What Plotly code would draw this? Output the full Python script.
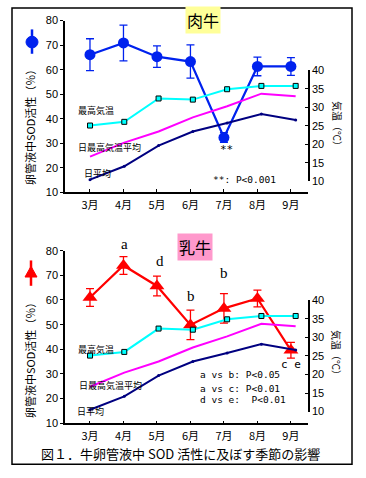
import plotly.graph_objects as go

W, H = 366, 478
def X(px): return px / W
def Y(py): return 1 - py / H

months = ["3月", "4月", "5月", "6月", "7月", "8月", "9月"]

# SOD activity (%) in oviduct fluid
beef_sod = [66.1, 70.9, 65.3, 63.3, 32.3, 61.3, 61.3]
beef_err = [6.5, 7.3, 4.4, 6.8, 2.0, 3.8, 3.6]
dairy_sod = [61.0, 74.0, 65.7, 49.9, 56.6, 60.6, 39.6]
dairy_err = [3.6, 3.6, 4.0, 6.0, 6.0, 3.4, 3.2]

# Temperatures (℃)
temp_max = [25.1, 26.1, 32.4, 32.1, 34.9, 35.8, 35.8]
temp_max_avg = [16.7, 20.5, 23.5, 27.3, 30.3, 33.7, 33.0]
temp_mean = [10.5, 14.1, 19.7, 23.5, 25.8, 28.2, 26.6]

JP = "Noto Sans CJK JP"
NUM = "Liberation Sans"

fig = go.Figure()

def add_panel(xa, ya, xt, yt, sod, err, color, symbol, msize):
    fig.add_trace(go.Scatter(x=months, y=temp_max, xaxis=xt, yaxis=yt, mode="lines+markers",
                             line=dict(color="#00FFFF", width=2),
                             marker=dict(symbol="square", size=5, color="#00FFFF",
                                         line=dict(color="#000000", width=1)),
                             showlegend=False))
    fig.add_trace(go.Scatter(x=months, y=temp_max_avg, xaxis=xt, yaxis=yt, mode="lines",
                             line=dict(color="#FF00FF", width=2), showlegend=False))
    fig.add_trace(go.Scatter(x=months, y=temp_mean, xaxis=xt, yaxis=yt, mode="lines+markers",
                             line=dict(color="#000080", width=2),
                             marker=dict(size=3, color="#000080"), showlegend=False))
    fig.add_trace(go.Scatter(x=months, y=sod, xaxis=xa, yaxis=ya, mode="lines+markers",
                             line=dict(color=color, width=2.2),
                             marker=dict(symbol=symbol, size=msize, color=color),
                             error_y=dict(type="data", array=err, visible=True, color=color,
                                          thickness=1.3, width=4),
                             showlegend=False))

add_panel("x", "y", "x2", "y2", beef_sod, beef_err, "#0022EE", "circle", 11)
add_panel("x3", "y3", "x4", "y4", dairy_sod, dairy_err, "#FF0000", "triangle-up", 13)

xdom = [X(65), X(308)]
xrange_main = [-0.746, 6.51]
xrange_temp = [-0.73, 6.36]

def main_x(anchor):
    return dict(domain=xdom, anchor=anchor, type="category", range=xrange_main,
                showline=True, linecolor="black", linewidth=1.5, ticks="inside", ticklen=3,
                tickcolor="black", showgrid=False, zeroline=False, ticklabelstandoff=2,
                tickfont=dict(family=JP, size=11, color="black"))

def temp_x(anchor):
    return dict(domain=xdom, anchor=anchor, type="category", range=xrange_temp,
                visible=False, showgrid=False)

def left_y(dom, anchor):
    return dict(domain=dom, anchor=anchor, range=[10, 80], tickvals=[10, 20, 30, 40, 50, 60, 70, 80],
                showline=True, linecolor="black", linewidth=1.5, ticks="outside", ticklen=3,
                tickcolor="black", showgrid=False, zeroline=False,
                tickfont=dict(family=NUM, size=11, color="black"))

def right_y(dom):
    return dict(domain=dom, anchor="free", position=X(309), side="right", range=[10, 40],
                tickvals=[10, 15, 20, 25, 30, 35, 40],
                showline=True, linecolor="black", linewidth=1.5, ticks="inside", ticklen=3,
                tickcolor="black", showgrid=False, zeroline=False,
                tickfont=dict(family=NUM, size=11, color="black"))

fig.update_layout(
    width=W, height=H, margin=dict(l=0, r=0, t=0, b=0),
    paper_bgcolor="white", plot_bgcolor="rgba(0,0,0,0)",
    xaxis=main_x("y"), xaxis2=temp_x("y2"),
    xaxis3=main_x("y3"), xaxis4=temp_x("y4"),
    yaxis=left_y([Y(191), Y(15)], "x"),
    yaxis2=right_y([Y(180), Y(66)]),
    yaxis3=left_y([Y(428), Y(251)], "x3"),
    yaxis4=right_y([Y(416), Y(302)]),
)

ann = []
def A(text, px, py, size=9, family=JP, angle=0, bg=None, xanchor="center"):
    d = dict(text=text, x=X(px), y=Y(py), xref="paper", yref="paper", showarrow=False,
             xanchor=xanchor, yanchor="middle", textangle=angle,
             font=dict(family=family, size=size, color="black"))
    if bg:
        d.update(bgcolor=bg, borderpad=1)
    ann.append(d)

# panel titles
A("肉牛", 203, 14, size=16, bg="#FFFF99")
A("乳牛", 195, 247, size=16, bg="#FF99CC")

# axis titles
A("卵管液中SOD活性（％）", 30, 122, size=11, angle=-90)
A("卵管液中SOD活性（％）", 30, 361, size=11, angle=-90)
A("気温（℃）", 337, 123, size=10, angle=90)
A("気温（℃）", 337, 358, size=10, angle=90)

# line labels top
A("最高気温", 76, 107, xanchor="left")
A("日最高気温平均", 76, 145, xanchor="left")
A("日平均", 82, 172, xanchor="left")
# line labels bottom
A("最高気温", 76, 352, xanchor="left")
A("日最高気温平均", 77, 389, xanchor="left")
A("日平均", 75, 416, xanchor="left")

MONO = "DejaVu Sans Mono"
A("**", 226, 147, size=11, family=MONO)
A("**: P<0.001", 211, 178, size=9.5, family=MONO, xanchor="left")

SERIF = "Liberation Serif"
A("a", 124, 244, size=15, family=SERIF)
A("d", 160, 262, size=15, family=SERIF)
A("b", 191, 297, size=15, family=SERIF)
A("b", 224, 274, size=15, family=SERIF)
A("c e", 291, 368, size=11, family=MONO)
A("a vs b: P<0.05", 198, 378, size=9.5, family=MONO, xanchor="left")
A("a vs c: P<0.01", 198, 392, size=9.5, family=MONO, xanchor="left")
A("d vs e:  P<0.01", 198, 404, size=9.5, family=MONO, xanchor="left")

A("図１．牛卵管液中 SOD 活性に及ぼす季節の影響", 180, 459, size=13)

fig.update_layout(annotations=ann)

shapes = [
    dict(type="rect", xref="paper", yref="paper", x0=X(12), x1=X(352), y0=Y(470), y1=Y(2),
         line=dict(color="black", width=1.5)),
    # top legend symbol
    dict(type="line", xref="paper", yref="paper", x0=X(32), x1=X(32), y0=Y(49), y1=Y(24),
         line=dict(color="#0022EE", width=2.5)),
    dict(type="circle", xref="paper", yref="paper", x0=X(26), x1=X(38), y0=Y(43), y1=Y(31),
         fillcolor="#0022EE", line=dict(color="#0022EE", width=1)),
    # bottom legend symbol
    dict(type="line", xref="paper", yref="paper", x0=X(31), x1=X(31), y0=Y(287), y1=Y(261),
         line=dict(color="#FF0000", width=2.5)),
    dict(type="path", xref="paper", yref="paper",
         path=f"M {X(25)},{Y(278)} L {X(37)},{Y(278)} L {X(31)},{Y(267)} Z",
         fillcolor="#FF0000", line=dict(color="#FF0000", width=1)),
]
fig.update_layout(shapes=shapes)

fig.write_html("out.html", config={"displayModeBar": False},
               post_script="document.body.style.margin='0';document.body.style.padding='0';"
                           "document.body.style.overflow='hidden';")
